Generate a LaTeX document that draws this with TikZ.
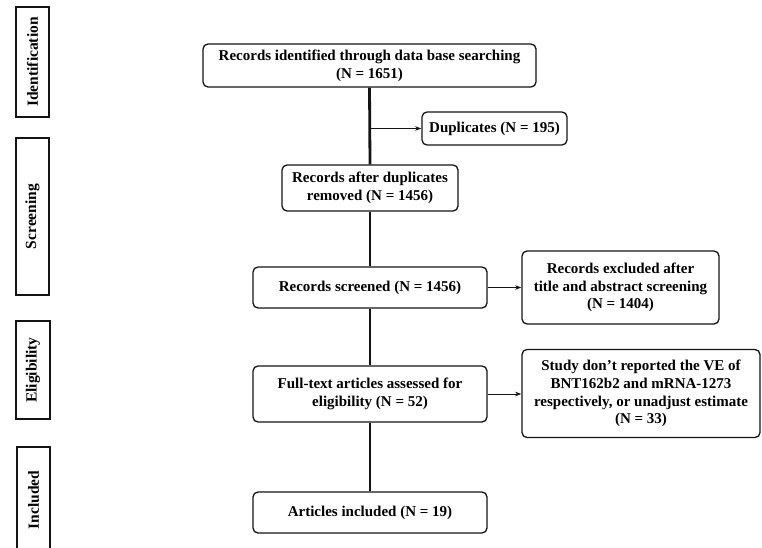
\documentclass[tikz,border=0pt]{standalone}
\usepackage{fontspec}
\setmainfont{Liberation Serif}
\usepackage{tikz}
\usetikzlibrary{positioning,arrows.meta,calc}
\definecolor{pLine}{RGB}{20,20,20}
\tikzset{
  box/.style={rectangle, rounded corners=5pt, draw=pLine, line width=1.3pt,
              fill=white, align=center, inner sep=2pt,
              font=\fontsize{15}{17.7}\selectfont\bfseries},
  stage/.style={rectangle, draw=pLine, line width=1.3pt, rotate=90,
                align=center, inner sep=0pt,
                font=\fontsize{15.5}{17}\selectfont\bfseries},
  trunk/.style={draw=pLine, line width=2.8pt},
  side/.style={-{Stealth[length=2.2mm,width=1.6mm]}, draw=pLine, line width=1pt},
}
\begin{document}
\begin{tikzpicture}[x=1pt,y=-1pt]
  \useasboundingbox (0,0) rectangle (762,548);

  % stage labels down the left side
  \node[stage, minimum width=110pt, minimum height=33pt] (sIdent) at (32.5,62) {Identification};
  \node[stage, minimum width=157pt, minimum height=33pt] (sScreen) at (32.5,216.5) {Screening};
  \node[stage, minimum width=98pt, minimum height=34pt] (sElig) at (33,370) {Eligibility};
  \node[stage, minimum width=106pt, minimum height=33pt] (sIncl) at (33.5,500) {Included};

  % main flow
  \node[box, minimum width=333pt, minimum height=43pt] (ident) at (369.5,65.5)
       {Records identified through data base searching\\(N = 1651)};
  \node[box, minimum width=145pt, minimum height=33pt] (dup) at (494.5,128.5)
       {Duplicates (N = 195)};
  \node[box, minimum width=176pt, minimum height=46pt] (afterdup) at (370,188)
       {Records after duplicates\\removed (N = 1456)};
  \node[box, minimum width=234pt, minimum height=41pt] (screened) at (370,287.5)
       {Records screened (N = 1456)};
  \node[box, minimum width=197pt, minimum height=73pt] (excluded) at (620.5,287.5)
       {Records excluded after\\title and abstract screening\\(N = 1404)};
  \node[box, minimum width=234pt, minimum height=56pt] (fulltext) at (370,394)
       {Full-text articles assessed for\\eligibility (N = 52)};
  \node[box, minimum width=238pt, minimum height=88pt] (study) at (641,393.5)
       {Study don’t reported the VE of\\BNT162b2 and mRNA-1273\\respectively, or unadjust estimate\\(N = 33)};
  \node[box, minimum width=234pt, minimum height=41pt] (incl) at (370,512.5)
       {Articles included (N = 19)};

  % trunk line
  \draw[trunk] (ident.south) -- (afterdup.north);
  \draw[trunk] (afterdup.south) -- (screened.north);
  \draw[trunk] (screened.south) -- (fulltext.north);
  \draw[trunk] (fulltext.south) -- (incl.north);

  % side branches
  \coordinate (split) at (ident.south |- dup.west);
  \draw[side] (split) -- (dup.west);
  \draw[side] (screened.east) -- (excluded.west);
  \draw[side] (fulltext.east) -- (fulltext.east -| study.west);
\end{tikzpicture}
\end{document}
